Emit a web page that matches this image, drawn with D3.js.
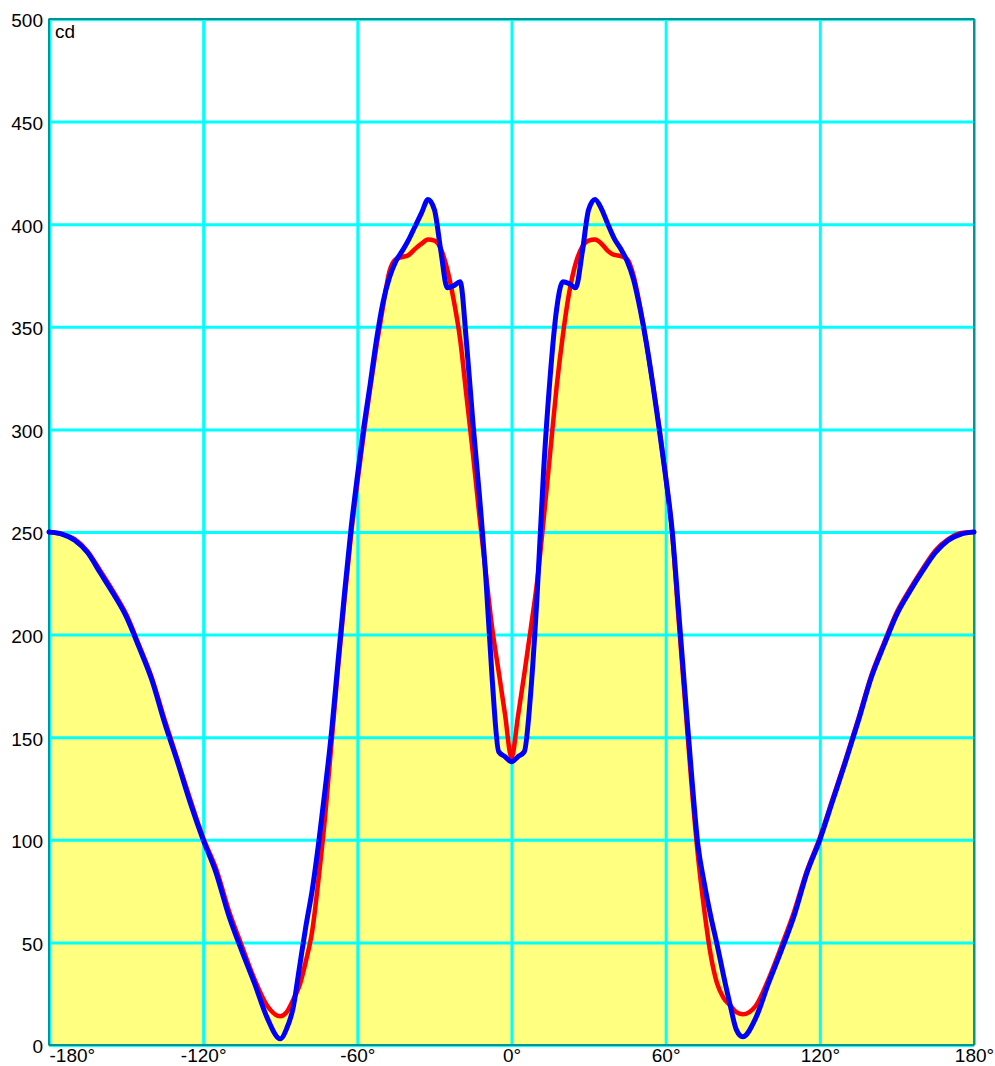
<!DOCTYPE html>
<html>
<head>
<meta charset="utf-8">
<script src="https://cdn.jsdelivr.net/npm/d3@7"></script>
<style>
  body { margin: 0; background: #fff; }
  svg { display: block; }
</style>
</head>
<body>
<div id="chart"></div>
<script>
// angles (degrees), finer steps where the curves have detail
const angles = [
  -180, -175, -170, -165, -160, -155, -150, -145, -140, -135, -130, -125, -120,
  -115, -110, -105, -100, -95, -90,
  -87.5, -85, -82.5, -80, -77.5, -75, -72.5, -70, -67.5, -65, -62.5, -60,
  -57.5, -55, -52.5, -50, -47.5, -45, -42.5, -40, -37.5, -35, -32.5, -30,
  -27.5, -25, -22.5, -20, -17.5, -15, -12.5, -10, -7.5, -5, -2.5, 0,
  2.5, 5, 7.5, 10, 12.5, 15, 17.5, 20, 22.5, 25, 27.5, 30,
  32.5, 35, 37.5, 40, 42.5, 45, 47.5, 50, 52.5, 55, 57.5, 60,
  62.5, 65, 67.5, 70, 72.5, 75, 77.5, 80, 82.5, 85, 87.5,
  90, 95, 100, 105, 110, 115, 120, 125, 130, 135, 140, 145, 150, 155, 160,
  165, 170, 175, 180
];

// red curve (cd)
const redValues = [
  250, 249, 246.5, 240.5, 231, 221, 210, 195, 179, 158.5, 139, 119.5, 101,
  86, 65.5, 48.5, 32, 19, 14,
  16, 22, 29, 41, 56, 82, 112, 148, 184, 217, 248, 274,
  298, 320, 341, 360, 377, 383, 384, 385, 388, 390.5, 392.5, 392,
  388, 378, 363, 344, 316, 288, 258, 230, 203, 182, 161, 140,
  160, 181, 203, 226, 256, 288, 320, 346, 367, 381, 389, 392,
  392.5, 390.5, 387, 385, 384.5, 383, 375, 360, 342, 322, 301, 277,
  250, 208, 168, 128, 93, 66, 44, 30, 23, 19.5, 16,
  15, 19, 32, 48, 65, 85, 101, 120, 139, 159, 180, 196, 211, 222, 232,
  241, 246.5, 249.5, 250
];

// blue curve (cd)
const blueValues = [
  250, 249, 246, 240, 230, 220, 209, 194, 178, 157, 138, 118, 100,
  84, 63, 46, 30, 13, 3,
  8, 18, 38, 58, 76, 99, 125, 153, 187, 220, 251, 277,
  301, 322, 344, 362, 374, 382, 387, 392.5, 399, 405.5, 412, 407,
  387, 369, 370, 372, 342, 303, 268, 228, 178, 143, 140.5, 138,
  140.5, 143, 172, 220, 280, 325, 358, 372, 371, 369, 386, 407,
  412, 407.5, 400, 393, 388, 382, 373, 359, 342, 322, 300, 277,
  251, 212, 172, 133, 98, 79, 63, 49, 34, 20, 7.5,
  4, 13, 30, 46, 63, 84, 100, 119, 138, 158, 179, 195, 210, 221, 231,
  240, 246, 249, 250
];

const xTicks = [-180, -120, -60, 0, 60, 120, 180];
const yTicks = [0, 50, 100, 150, 200, 250, 300, 350, 400, 450, 500];
const unitLabel = 'cd';

const width = 995;
const height = 1066;
const margin = { top: 19, right: 21, bottom: 21, left: 49 };
const plotW = width - margin.left - margin.right;
const plotH = height - margin.top - margin.bottom;

const svg = d3.select('#chart')
  .append('svg')
  .attr('width', width)
  .attr('height', height)
  .style('font-family', '"Liberation Sans", Arial, sans-serif');

const x = d3.scaleLinear().domain([-180, 180]).range([margin.left, margin.left + plotW]);
const y = d3.scaleLinear().domain([0, 500]).range([margin.top + plotH, margin.top]);

const red = angles.map((a, i) => ({ a, v: redValues[i] }));
const blue = angles.map((a, i) => ({ a, v: blueValues[i] }));

// yellow fill under both curves
const area = d3.area()
  .x(d => x(d.a))
  .y0(y(0))
  .y1(d => y(d.v))
  .curve(d3.curveMonotoneX);

svg.append('g')
  .selectAll('path')
  .data([red, blue])
  .join('path')
  .attr('d', area)
  .attr('fill', '#ffff80');

// grid + tick labels
const gx = svg.append('g')
  .attr('transform', `translate(0, ${margin.top + plotH})`)
  .call(d3.axisBottom(x).tickValues(xTicks).tickSize(-plotH).tickPadding(4)
    .tickFormat(d => d + '°'));

const gy = svg.append('g')
  .attr('transform', `translate(${margin.left}, 0)`)
  .call(d3.axisLeft(y).tickValues(yTicks).tickSize(-plotW).tickPadding(6));

[gx, gy].forEach(g => {
  g.select('.domain').remove();
  g.selectAll('.tick line').attr('stroke', '#00ffff').attr('stroke-width', 3);
  g.selectAll('.tick text')
    .attr('fill', '#000')
    .attr('font-size', 19)
    .attr('font-family', '"Liberation Sans", Arial, sans-serif');
});
gy.selectAll('.tick text').attr('dy', '0.42em');
gx.selectAll('.tick text').filter(d => d === -180).attr('text-anchor', 'start');

// frame
svg.append('rect')
  .attr('x', margin.left)
  .attr('y', margin.top)
  .attr('width', plotW)
  .attr('height', plotH)
  .attr('fill', 'none')
  .attr('stroke', '#005050')
  .attr('stroke-width', 1.2);

svg.append('text')
  .attr('x', margin.left + 6)
  .attr('y', margin.top + 19)
  .attr('font-size', 19)
  .text(unitLabel);

// curves
const line = d3.line()
  .x(d => x(d.a))
  .y(d => y(d.v))
  .curve(d3.curveMonotoneX);

svg.append('g')
  .selectAll('path')
  .data([{ pts: red, c: '#ff0000', w: 4.5 }, { pts: blue, c: '#0000ff', w: 5 }])
  .join('path')
  .attr('d', d => line(d.pts))
  .attr('fill', 'none')
  .attr('stroke', d => d.c)
  .attr('stroke-width', d => d.w)
  .attr('stroke-linejoin', 'round')
  .attr('stroke-linecap', 'round');
</script>
</body>
</html>
